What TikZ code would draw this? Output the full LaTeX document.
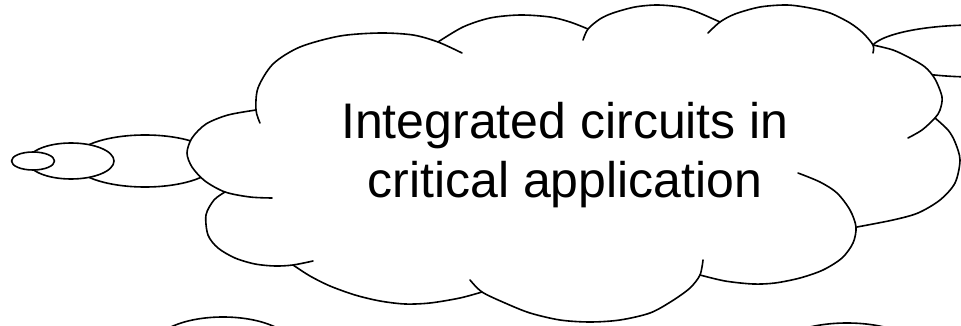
\documentclass[tikz,border=0pt]{standalone}
\usepackage{fontspec}
\setmainfont{Liberation Sans}
\tikzset{
  outl/.style={draw=black, line width=1.6pt, line cap=round, line join=round},
  bub/.style={outl, fill=white},
  lbl/.style={anchor=base, inner sep=0pt, font=\fontsize{50}{58}\selectfont},
}
\begin{document}
\begin{tikzpicture}[x=1pt,y=-1pt]
\useasboundingbox (0,0) rectangle (961,326);
% shapes behind the cloud
\path[bub] (975,51) ellipse [x radius=105pt, y radius=26pt];
\path[bub] (223,347) ellipse [x radius=70pt, y radius=30pt];
\path[bub] (847,358) ellipse [x radius=80pt, y radius=35pt];
% thought bubbles
\path[bub] (145,161) ellipse [x radius=72pt, y radius=26pt];
\path[bub] (71,161) ellipse [x radius=43pt, y radius=18pt];
\path[bub] (33,161) ellipse [x radius=21.5pt, y radius=9pt];
% cloud fill
\fill[white] plot[smooth] coordinates {(256,110) (258,88) (273,64) (300,47) (340,36) (380,33) (413,35) (438,42)}
  -- plot[smooth] coordinates {(438,42) (463,27) (490,18) (520,15) (550,17) (570,22) (588,29)}
  -- plot[smooth] coordinates {(588,29) (600,19) (613,13) (635,7) (657,5) (680,7) (697,12) (720,22)}
  -- plot[smooth] coordinates {(720,22) (735,14) (760,7) (787,5) (810,8) (830,13) (850,23) (863,33) (873,45)}
  -- plot[smooth] coordinates {(873,45) (893,50) (910,58) (925,67) (935,79) (942,97) (940,110) (935,118)}
  -- plot[smooth] coordinates {(935,118) (948,130) (955,142) (960,160) (955,183) (940,200) (918,213) (893,220) (857,227)}
  -- plot[smooth] coordinates {(857,227) (853,243) (842,258) (823,270) (800,278) (775,283) (753,284) (725,281) (700,275)}
  -- plot[smooth] coordinates {(700,275) (690,288) (672,301) (650,313) (620,320) (590,322) (560,320) (530,313) (505,303) (482,292)}
  -- plot[smooth] coordinates {(482,292) (460,298) (430,303) (405,304) (380,301) (355,295) (330,286) (310,276) (293,265)}
  -- plot[smooth] coordinates {(293,265) (275,266) (255,264) (235,258) (218,248) (208,235) (206,215) (214,200) (225,192)}
  -- plot[smooth] coordinates {(225,192) (205,181) (192,167) (187,153) (192,138) (206,124) (228,115) (256,110)}
  -- cycle;
% cloud outline
\draw[outl] plot[smooth] coordinates {(260,123) (256,110) (258,88) (273,64) (300,47) (340,36) (380,33) (413,35) (438,42) (462,53)};
\draw[outl] plot[smooth] coordinates {(438,42) (463,27) (490,18) (520,15) (550,17) (570,22) (588,29)};
\draw[outl] plot[smooth] coordinates {(583,40) (588,29) (600,19) (613,13) (635,7) (657,5) (680,7) (697,12) (720,22)};
\draw[outl] plot[smooth] coordinates {(708,33) (720,22) (735,14) (760,7) (787,5) (810,8) (830,13) (850,23) (863,33) (873,45) (873,53)};
\draw[outl] plot[smooth] coordinates {(873,45) (893,50) (910,58) (925,67) (935,79) (942,97) (940,110) (935,118) (922,130) (908,138)};
\draw[outl] plot[smooth] coordinates {(935,118) (948,130) (955,142) (960,160) (955,183) (940,200) (918,213) (893,220) (857,227)};
\draw[outl] plot[smooth] coordinates {(798,173) (820,182) (837,193) (850,210) (856,227) (853,243) (842,258) (823,270) (800,278) (775,283) (753,284) (725,281) (700,275)};
\draw[outl] plot[smooth] coordinates {(703,260) (700,275) (690,288) (672,301) (650,313) (620,320) (590,322) (560,320) (530,313) (505,303) (482,292) (470,280)};
\draw[outl] plot[smooth] coordinates {(482,292) (460,298) (430,303) (405,304) (380,301) (355,295) (330,286) (310,276) (293,265)};
\draw[outl] plot[smooth] coordinates {(313,261) (293,265) (275,266) (255,264) (235,258) (218,248) (208,235) (206,215) (214,200) (225,192)};
\draw[outl] plot[smooth] coordinates {(272,198) (250,197) (225,192) (205,181) (192,167) (187,153) (192,138) (206,124) (228,115) (256,110)};
% text
\node[lbl] (line1) at (565,139) {Integrated circuits in};
\node[lbl] (line2) at (565,197) {critical application};
\end{tikzpicture}
\end{document}
